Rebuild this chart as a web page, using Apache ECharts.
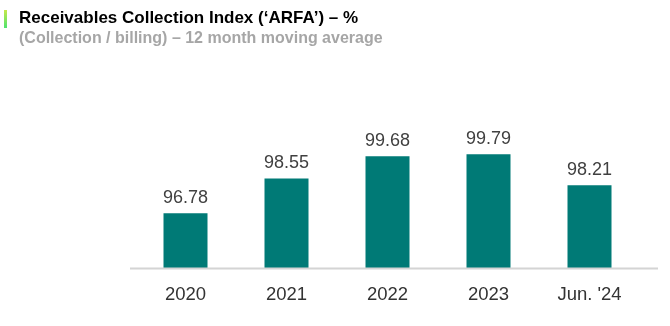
<!DOCTYPE html>
<html><head><meta charset="utf-8">
<script src="https://cdn.jsdelivr.net/npm/echarts@6/dist/echarts.min.js"></script>
<style>html,body{margin:0;padding:0;background:#fff}#c{width:670px;height:326px}</style>
</head><body><div id="c"></div>
<script>
const categories = ['2020', '2021', '2022', '2023', "Jun. '24"];
const arfaValues = [96.78, 98.55, 99.68, 99.79, 98.21];
const titleText = 'Receivables Collection Index (‘ARFA’) – %';
const subtitleText = '(Collection / billing) – 12 month moving average';

const chart = echarts.init(document.getElementById('c'), null, {renderer: 'canvas'});
chart.setOption({
  animation: false,
  backgroundColor: '#ffffff',
  grid: {left: 135, right: 30, top: 150, bottom: 58, containLabel: false},
  xAxis: {
    type: 'category', data: categories,
    axisLine: {show: false}, axisTick: {show: false},
    axisLabel: {color: '#333333', fontSize: 18.5, fontFamily: 'Liberation Sans, Arial', margin: 17}
  },
  yAxis: {type: 'value', min: 94, max: 100, show: false, splitLine: {show: false}},
  series: [{
    type: 'bar', data: arfaValues, barWidth: 44,
    itemStyle: {color: '#007a76'},
    label: {show: true, position: 'top', distance: 6, color: '#404040', fontSize: 18,
      fontFamily: 'Liberation Sans, Arial', formatter: p => p.value.toFixed(2)}
  }],
  graphic: [
    {type: 'line', shape: {x1: 130, y1: 268.5, x2: 658, y2: 268.5}, style: {stroke: '#d4d4d4', lineWidth: 2}, z: 10},
    {type: 'rect', shape: {x: 4, y: 10, width: 3, height: 18},
      style: {fill: new echarts.graphic.LinearGradient(0, 0, 0, 1, [{offset: 0, color: '#c6e84a'}, {offset: 1, color: '#4ee36e'}])}},
    {type: 'text', left: 19, top: 10, style: {text: titleText, fill: '#000000', font: 'bold 17px "Liberation Sans", Arial'}},
    {type: 'text', left: 19, top: 31, style: {text: subtitleText, fill: '#a6a6a6', font: 'bold 16px "Liberation Sans", Arial'}}
  ]
});
</script></body></html>
